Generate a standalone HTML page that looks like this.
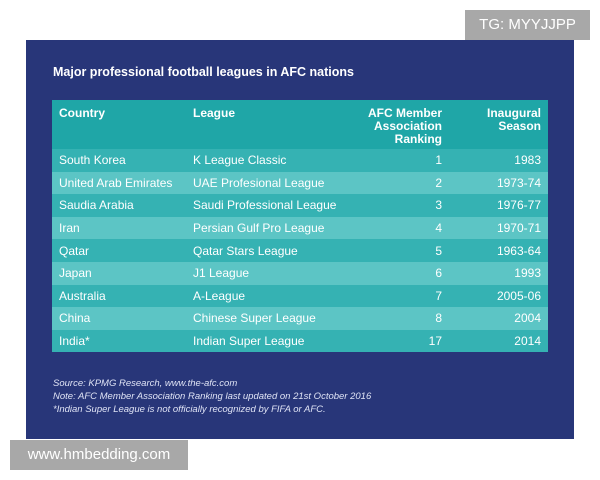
<!DOCTYPE html>
<html><head><style>
body{margin:0;width:600px;height:480px;background:#fff;position:relative;font-family:"Liberation Sans",sans-serif;overflow:hidden}
.tg{position:absolute;left:465px;top:10px;width:125px;height:30px;background:#a8a8a8;color:#fff;font-size:15px;line-height:30px;text-align:center}
.panel{position:absolute;left:26px;top:40px;width:548px;height:399px;background:#283679}
.title{position:absolute;left:27px;top:25px;color:#fff;font-weight:bold;font-size:12.5px}
table{position:absolute;left:26px;top:60px;width:496px;border-collapse:collapse;color:#fff;font-size:12px;table-layout:fixed}
th{background:#1fa6a7;font-weight:bold;vertical-align:top;padding:7px 7px 0;height:42px;text-align:left;line-height:13px;font-size:12px;white-space:nowrap}
td{height:22.6px;padding:0 7px;line-height:22px;white-space:nowrap;overflow:hidden}
tr:nth-child(even) td{background:#35b2b3}
tr:nth-child(odd) td{background:#5cc5c5}
.r{text-align:right}
.foot{position:absolute;left:27px;top:337px;color:#dfe3f5;font-style:italic;font-size:9.5px;line-height:13px}
.www{position:absolute;left:10px;top:440px;width:178px;height:30px;background:#a8a8a8;color:#fff;font-size:15px;line-height:30px;text-align:center}
</style></head><body>
<div class="tg">TG: MYYJJPP</div>
<div class="panel">
<div class="title">Major professional football leagues in AFC nations</div>
<table>
<colgroup><col style="width:134px"><col style="width:150px"><col style="width:113px"><col style="width:99px"></colgroup>
<tr><th>Country</th><th>League</th><th style="text-align:right">AFC Member<br>Association<br>Ranking</th><th style="text-align:right">Inaugural<br>Season</th></tr>
<tr><td>South Korea</td><td>K League Classic</td><td class="r">1</td><td class="r">1983</td></tr>
<tr><td>United Arab Emirates</td><td>UAE Profesional League</td><td class="r">2</td><td class="r">1973-74</td></tr>
<tr><td>Saudia Arabia</td><td>Saudi Professional League</td><td class="r">3</td><td class="r">1976-77</td></tr>
<tr><td>Iran</td><td>Persian Gulf Pro League</td><td class="r">4</td><td class="r">1970-71</td></tr>
<tr><td>Qatar</td><td>Qatar Stars League</td><td class="r">5</td><td class="r">1963-64</td></tr>
<tr><td>Japan</td><td>J1 League</td><td class="r">6</td><td class="r">1993</td></tr>
<tr><td>Australia</td><td>A-League</td><td class="r">7</td><td class="r">2005-06</td></tr>
<tr><td>China</td><td>Chinese Super League</td><td class="r">8</td><td class="r">2004</td></tr>
<tr><td>India*</td><td>Indian Super League</td><td class="r">17</td><td class="r">2014</td></tr>
</table>
<div class="foot">Source: KPMG Research, www.the-afc.com<br>Note: AFC Member Association Ranking last updated on 21st October 2016<br>*Indian Super League is not officially recognized by FIFA or AFC.</div>
</div>
<div class="www">www.hmbedding.com</div>
</body></html>
